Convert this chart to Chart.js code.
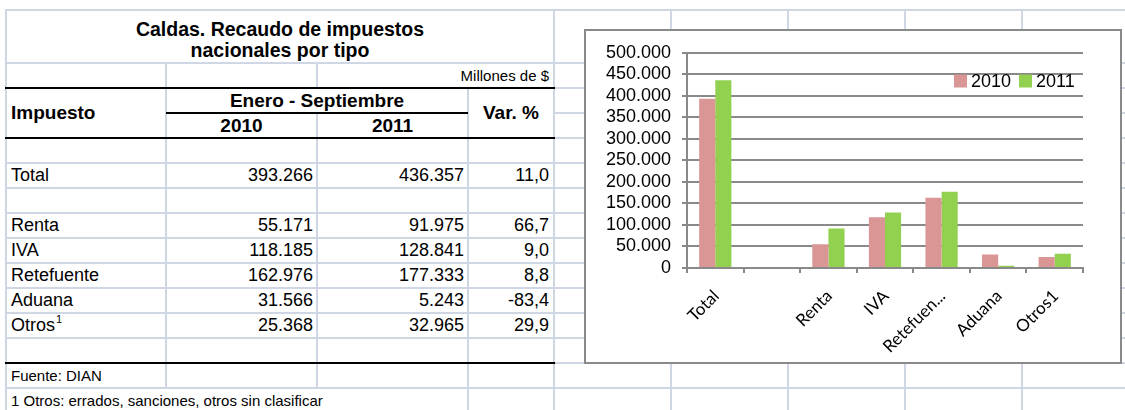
<!DOCTYPE html>
<html>
<head>
<meta charset="utf-8">
<script src="https://cdn.jsdelivr.net/npm/chart.js@4.4.1/dist/chart.umd.min.js"></script>
<style>
html, body { margin: 0; padding: 0; background: #fff; width: 1125px; height: 410px; overflow: hidden; }
body { font-family: "Liberation Sans", Arial, sans-serif; color: #000; }
#sheet { position: absolute; left: 0; top: 0; width: 1125px; height: 410px; }
.ln { position: absolute; background: #cfd6e4; }
.blk { position: absolute; background: #000; }
.wh { position: absolute; background: #fff; }
.c { position: absolute; display: flex; box-sizing: border-box; white-space: nowrap; font-size: 18px; line-height: 21px; }
.c sup { font-size: 11px; line-height: 0; vertical-align: 0; position: relative; top: -8px; margin-left: 1px; }
#box { position: absolute; left: 584px; top: 29px; width: 538px; height: 335px; box-sizing: border-box; border: 2px solid #8a8a8a; background: #fff; }
#box canvas { display: block; }
</style>
</head>
<body>
<div id="sheet"></div>
<div id="box"><canvas id="chart" width="534" height="331"></canvas></div>
<script>
// table data
const taxNames = ['Total', 'Renta', 'IVA', 'Retefuente', 'Aduana', 'Otros'];
const values2010 = [393266, 55171, 118185, 162976, 31566, 25368];
const values2011 = [436357, 91975, 128841, 177333, 5243, 32965];
const varPct = [11.0, 66.7, 9.0, 8.8, -83.4, 29.9];
const seriesNames = ['2010', '2011'];

// chart categories (second one is the empty spacer row of the sheet)
const chartLabels = ['Total', '', 'Renta', 'IVA', 'Retefuen...', 'Aduana', 'Otros1'];
const chart2010 = [values2010[0], null, ...values2010.slice(1)];
const chart2011 = [values2011[0], null, ...values2011.slice(1)];
const yTicks = [0, 50000, 100000, 150000, 200000, 250000, 300000, 350000, 400000, 450000, 500000];

// sheet grid
const colX = [6, 166, 317, 468, 554, 671, 788, 905, 1022, 1139];
const rowY = [10, 63, 88, 113, 138, 163, 188, 213, 238, 263, 288, 313, 338, 363, 388, 413];

const sheet = document.getElementById('sheet');

function box(cls, x, y, w, h) {
  const d = document.createElement('div');
  d.className = cls;
  d.style.left = x + 'px';
  d.style.top = y + 'px';
  d.style.width = w + 'px';
  d.style.height = h + 'px';
  sheet.appendChild(d);
}

colX.forEach(x => box('ln', x - 1, rowY[0] - 1, 2, 420));
rowY.forEach(y => box('ln', colX[0] - 1, y - 1, 1200, 2));

// merged / overflowing cells hide the gridlines inside them
function merge(c0, c1, r0, r1) {
  box('wh', colX[c0] + 1, rowY[r0] + 1, colX[c1] - colX[c0] - 2, rowY[r1] - rowY[r0] - 2);
}
merge(0, 4, 0, 1);
merge(2, 4, 1, 2);
merge(0, 1, 2, 4);
merge(1, 3, 2, 3);
merge(3, 4, 2, 4);
merge(0, 3, 14, 15);

// black rules
box('blk', 5, rowY[2] - 1, colX[4] - 4, 2);
box('blk', colX[1], rowY[3] - 1, colX[3] - colX[1], 2);
box('blk', 5, rowY[4] - 1, colX[4] - 4, 2);
box('blk', 5, rowY[13] - 1, colX[4] - 4, 2);

function cell(c0, c1, r0, r1, html, o) {
  o = o || {};
  const d = document.createElement('div');
  d.className = 'c';
  d.style.left = colX[c0] + 'px';
  d.style.top = rowY[r0] + 'px';
  d.style.width = (colX[c1] - colX[c0]) + 'px';
  d.style.height = (rowY[r1] - rowY[r0]) + 'px';
  d.style.justifyContent = o.align === 'right' ? 'flex-end' : o.align === 'center' ? 'center' : 'flex-start';
  d.style.textAlign = o.align || 'left';
  d.style.alignItems = o.middle ? 'center' : 'flex-end';
  d.style.padding = '0 ' + (o.padR ?? 5) + 'px ' + (o.padB ?? 2) + 'px ' + (o.padL ?? 5) + 'px';
  if (o.bold) d.style.fontWeight = 'bold';
  if (o.size) d.style.fontSize = o.size + 'px';
  d.innerHTML = '<span>' + html + '</span>';
  sheet.appendChild(d);
}

const fmtNum = n => String(n).replace(/\B(?=(\d{3})+(?!\d))/g, '.');
const fmtPct = v => v.toFixed(1).replace('.', ',');

cell(0, 4, 0, 1, 'Caldas. Recaudo de impuestos<br>nacionales por tipo', { align: 'center', bold: true, size: 19.5 });
cell(2, 4, 1, 2, 'Millones de $', { align: 'right', size: 15 });
cell(0, 1, 2, 4, 'Impuesto', { bold: true, size: 19, middle: true });
cell(1, 3, 2, 3, 'Enero - Septiembre', { align: 'center', bold: true, size: 19 });
cell(1, 2, 3, 4, seriesNames[0], { align: 'center', bold: true, size: 19 });
cell(2, 3, 3, 4, seriesNames[1], { align: 'center', bold: true, size: 19 });
cell(3, 4, 2, 4, 'Var. %', { align: 'center', bold: true, size: 19, middle: true });

const dataRows = [5, 7, 8, 9, 10, 11];
taxNames.forEach((name, i) => {
  const r = dataRows[i];
  const label = name === 'Otros' ? 'Otros<sup>1</sup>' : name;
  cell(0, 1, r, r + 1, label);
  cell(1, 2, r, r + 1, fmtNum(values2010[i]), { align: 'right', padR: 4 });
  cell(2, 3, r, r + 1, fmtNum(values2011[i]), { align: 'right', padR: 4 });
  cell(3, 4, r, r + 1, fmtPct(varPct[i]), { align: 'right', padR: 5 });
});
cell(0, 1, 13, 14, 'Fuente: DIAN', { size: 15 });
cell(0, 3, 14, 15, '1 Otros: errados, sanciones, otros sin clasificar', { size: 15 });

// chart
const gray = '#898989';

const sheetLegend = {
  id: 'sheetLegend',
  afterDraw(chart) {
    const ctx = chart.ctx;
    let x = 368;
    const cy = 50;
    ctx.save();
    ctx.font = '18px "Liberation Sans", Arial, sans-serif';
    ctx.textBaseline = 'middle';
    ctx.textAlign = 'left';
    chart.data.datasets.forEach(ds => {
      ctx.fillStyle = ds.backgroundColor;
      ctx.fillRect(x, cy - 6.5, 13, 13);
      x += 17;
      ctx.fillStyle = '#000';
      ctx.fillText(ds.label, x, cy + 1);
      x += ctx.measureText(ds.label).width + 8;
    });
    ctx.restore();
  }
};

new Chart(document.getElementById('chart'), {
  type: 'bar',
  data: {
    labels: chartLabels,
    datasets: [
      { label: seriesNames[0], data: chart2010, backgroundColor: '#d99694', categoryPercentage: 0.57, barPercentage: 1 },
      { label: seriesNames[1], data: chart2011, backgroundColor: '#92d050', categoryPercentage: 0.57, barPercentage: 1 }
    ]
  },
  options: {
    responsive: false,
    animation: false,
    devicePixelRatio: 1,
    layout: { padding: { top: 13, right: 37, left: 0, bottom: 0 } },
    plugins: { legend: { display: false }, tooltip: { enabled: false } },
    scales: {
      x: {
        grid: { display: true, drawOnChartArea: false, offset: true, tickLength: 5, color: gray, lineWidth: 2 },
        border: { display: true, color: gray, width: 2 },
        ticks: {
          minRotation: 45, maxRotation: 45, autoSkip: false, padding: 13, labelOffset: 1, color: '#000',
          font: { family: 'Lato', size: 17 }
        },
        afterFit: s => { s.height = 94; }
      },
      y: {
        min: 0,
        max: 500000,
        afterBuildTicks: s => { s.ticks = yTicks.map(v => ({ value: v })); },
        ticks: {
          autoSkip: false, padding: 11, color: '#000',
          font: { family: 'Liberation Sans', size: 18 },
          callback: v => fmtNum(v)
        },
        grid: { color: gray, lineWidth: 2, tickLength: 5 },
        border: { display: true, color: gray, width: 2 },
        afterFit: s => { s.width = 101; }
      }
    }
  },
  plugins: [sheetLegend]
});
</script>
</body>
</html>
